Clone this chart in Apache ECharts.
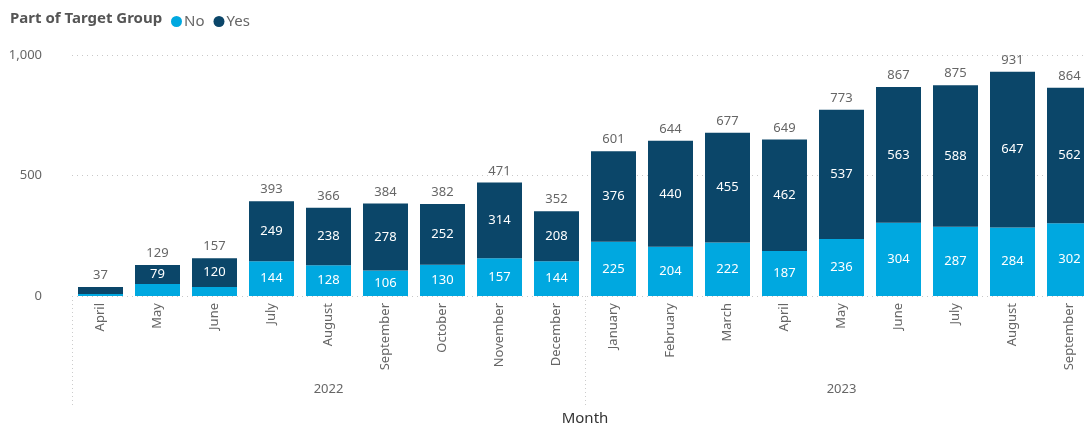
<!DOCTYPE html>
<html>
<head>
<meta charset="utf-8">
<script src="https://cdn.jsdelivr.net/npm/echarts@6/dist/echarts.min.js"></script>
<style>
  html, body { margin: 0; padding: 0; background: #fff; }
  #chart { width: 1084px; height: 428px; }
</style>
</head>
<body>
<div id="chart"></div>
<script>
const months = ["April", "May", "June", "July", "August", "September", "October", "November", "December",
  "January", "February", "March", "April", "May", "June", "July", "August", "September"];
const years = ["", "", "", "", "2022", "", "", "", "", "", "", "", "", "2023", "", "", "", ""];
const noVals = [8, 50, 37, 144, 128, 106, 130, 157, 144, 225, 204, 222, 187, 236, 304, 287, 284, 302];
const yesVals = [29, 79, 120, 249, 238, 278, 252, 314, 208, 376, 440, 455, 462, 537, 563, 588, 647, 562];
const yTicks = [0, 500, 1000];

const totals = noVals.map((v, i) => v + yesVals[i]);
const font = "'Segoe UI', 'Noto Sans', 'Open Sans', sans-serif";

let myChart = echarts.init(document.getElementById("chart"));
myChart.setOption({
  animation: false,
  textStyle: { fontFamily: font },
  title: {
    text: "Part of Target Group",
    left: 5,
    top: 6,
    textStyle: { fontSize: 15, fontWeight: "bold", color: "#555", fontFamily: font }
  },
  legend: {
    left: 166,
    top: 9,
    icon: "circle",
    itemWidth: 11,
    itemHeight: 11,
    itemGap: 9,
    data: ["No", "Yes"],
    textStyle: { fontSize: 15, color: "#666", fontFamily: font, padding: [0, 0, 0, -3] }
  },
  grid: { left: 72, top: 55, width: 1026, height: 241, outerBoundsMode: "none" },
  xAxis: [
    {
      type: "category",
      data: months,
      axisLine: { show: false },
      axisTick: { show: false },
      axisLabel: { rotate: 90, margin: 7, fontSize: 13, color: "#666", interval: 0 }
    },
    {
      type: "category",
      data: years,
      position: "bottom",
      axisLine: { show: false },
      axisTick: {
        show: true,
        length: 110,
        interval: (i) => i === 0 || i === 9,
        lineStyle: { color: "#ccc", type: [1, 3] }
      },
      axisLabel: { margin: 87, fontSize: 13, color: "#666", interval: 0 },
      name: "Month",
      nameLocation: "middle",
      nameGap: 115,
      nameTextStyle: { fontSize: 15, color: "#333", fontFamily: font }
    }
  ],
  yAxis: {
    type: "value",
    min: yTicks[0],
    max: yTicks[yTicks.length - 1],
    interval: 500,
    axisLine: { show: false },
    axisTick: { show: false },
    axisLabel: {
      margin: 30,
      fontSize: 13,
      color: "#666",
      formatter: (v) => v.toLocaleString("en-US")
    },
    splitLine: { lineStyle: { color: "#c8c8c8", type: [1, 4] } }
  },
  series: [
    {
      name: "No",
      type: "bar",
      stack: "a",
      barWidth: 45,
      data: noVals,
      itemStyle: { color: "#00a8e0" },
      label: {
        show: true,
        position: "inside",
        color: "#fff",
        fontSize: 13,
        formatter: (p) => (p.value >= 60 ? p.value : "")
      }
    },
    {
      name: "Yes",
      type: "bar",
      stack: "a",
      barWidth: 45,
      data: yesVals,
      itemStyle: { color: "#0b4669" },
      label: {
        show: true,
        position: "inside",
        color: "#fff",
        fontSize: 13,
        formatter: (p) => (p.value >= 60 ? p.value : "")
      }
    },
    {
      name: "Total",
      type: "bar",
      barWidth: 45,
      barGap: "-100%",
      silent: true,
      z: 1,
      data: totals,
      itemStyle: { color: "rgba(0,0,0,0)" },
      label: { show: true, position: "top", distance: 5, color: "#666", fontSize: 13 }
    }
  ]
});
</script>
</body>
</html>
